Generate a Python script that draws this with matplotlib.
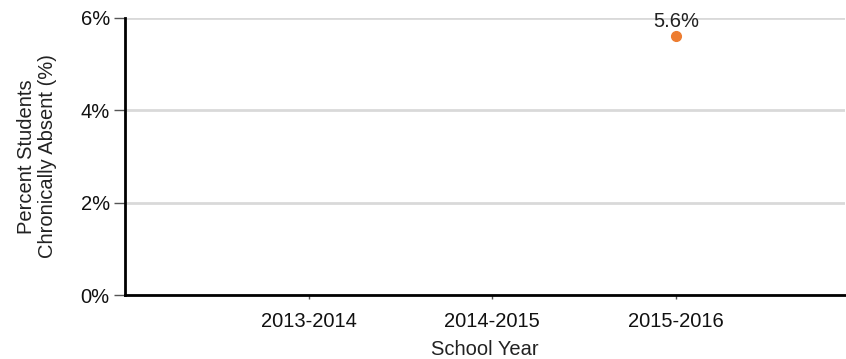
import numpy as np
import matplotlib.pyplot as plt
plt.rcParams['font.family'] = ['Liberation Sans', 'DejaVu Sans']

# 데이터
years = ['2013-2014', '2014-2015', '2015-2016']
absent_pct = [np.nan, np.nan, 5.6]
y_ticks = [0, 2, 4, 6]

fig = plt.figure(figsize=(8.46, 3.59), dpi=100)
ax = fig.add_axes([0.1478, 0.178, 0.851, 0.772])

x = np.arange(1, len(years) + 1)
ax.plot(x, absent_pct, 'o', color='#ED7D31', markersize=7, zorder=3, clip_on=False)
for xi, v in zip(x, absent_pct):
    if not np.isnan(v):
        ax.annotate(f'{v:.1f}%', (xi, v), xytext=(0, 4), textcoords='offset points',
                    ha='center', va='bottom', fontsize=14.5, color='#222222')

ax.set_xlim(0, 3.92)
ax.set_ylim(0, 6)
ax.set_xticks(x)
ax.set_xticklabels(years)
ax.set_yticks(y_ticks)
ax.set_yticklabels([f'{t}%' for t in y_ticks])
ax.tick_params(axis='both', labelsize=14.5, colors='#555555', labelcolor='#111111', width=1)
ax.tick_params(axis='y', length=8, pad=3)
ax.tick_params(axis='x', length=3, pad=9)

ax.grid(axis='y', color='#d9d9d9', linewidth=2)
ax.set_axisbelow(True)

for s in ('top', 'right'):
    ax.spines[s].set_visible(False)
ax.spines['left'].set_linewidth(2)
ax.spines['bottom'].set_linewidth(2)

ax.set_xlabel('School Year', fontsize=14.5, labelpad=7, color='#222222')
ax.set_ylabel('Percent Students\nChronically Absent (%)', fontsize=14.5, labelpad=17,
              color='#222222', linespacing=1.15)

fig.savefig('out.png', dpi=100)
